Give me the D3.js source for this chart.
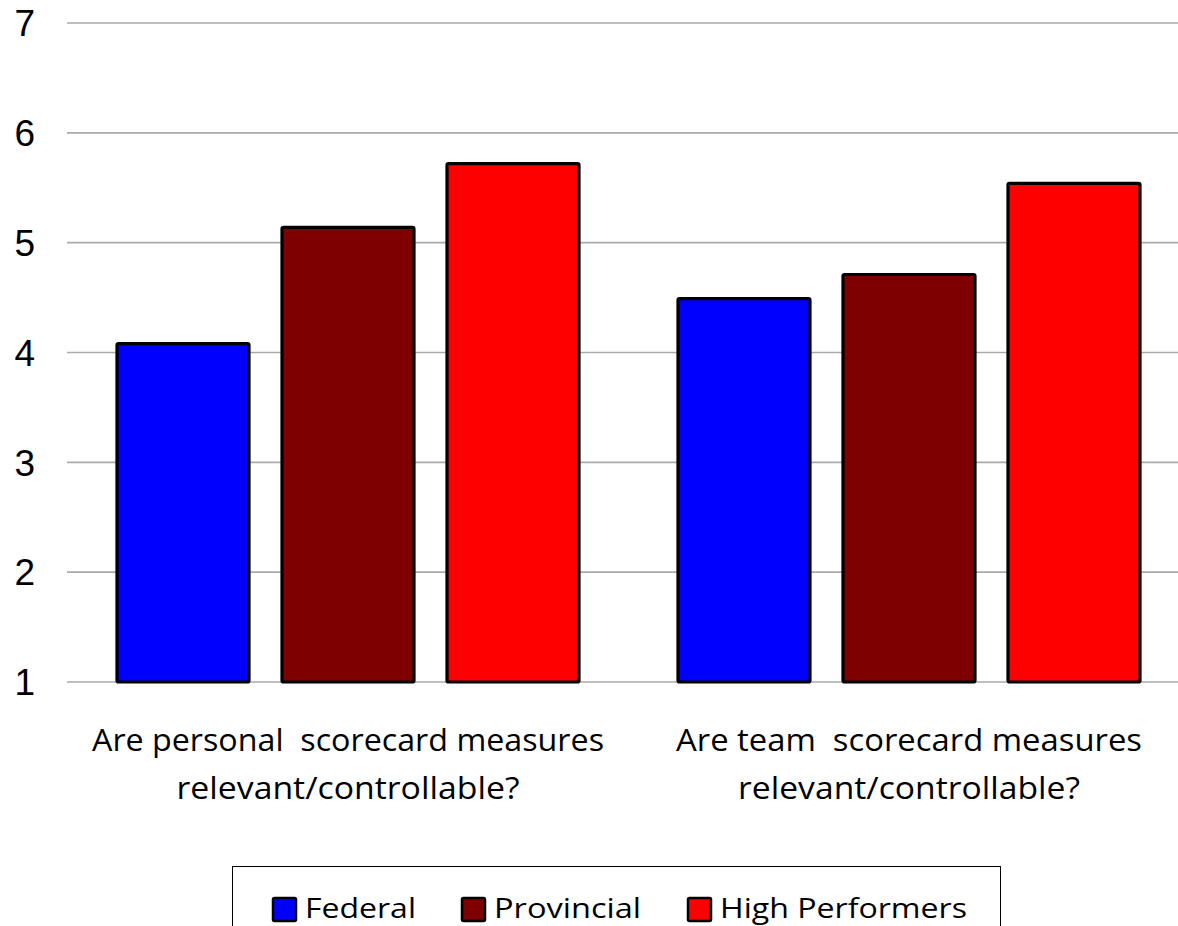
<!DOCTYPE html>
<html><head><meta charset="utf-8">
<script src="https://cdn.jsdelivr.net/npm/d3@7"></script>
<style>html,body{margin:0;padding:0;background:#fff;overflow:hidden}</style>
</head><body>
<svg id="c" width="1178" height="926"></svg>
<script>
const categories = [
  ["Are personal  scorecard measures", "relevant/controllable?"],
  ["Are team  scorecard measures", "relevant/controllable?"]
];
const seriesNames = ["Federal", "Provincial", "High Performers"];
const seriesColors = ["#0000ff", "#7f0000", "#ff0000"];
const federal = [4.08, 4.49];
const provincial = [5.14, 4.71];
const highPerformers = [5.72, 5.54];
const yTicks = [1, 2, 3, 4, 5, 6, 7];
const values = [federal, provincial, highPerformers];

const svg = d3.select("#c");
const y = d3.scaleLinear().domain([1, 7]).range([682, 23]);
const x0 = d3.scaleBand().domain([0, 1]).range([67.5, 1189.5]).padding(0);
const x1 = d3.scaleBand().domain(seriesNames).range([0, x0.bandwidth()]).paddingInner(0.2).paddingOuter(0.3);

// gridlines
svg.append("g").selectAll("line").data(yTicks).join("line")
  .attr("x1", 67).attr("x2", 1178)
  .attr("y1", d => y(d)).attr("y2", d => y(d))
  .attr("stroke", "#aaaaaa").attr("stroke-width", 1.6);

// y tick labels
svg.append("g").selectAll("text").data(yTicks).join("text")
  .attr("x", 35).attr("y", d => y(d)).attr("dy", "0.36em")
  .attr("text-anchor", "end")
  .attr("font-family", "Liberation Sans, Arial, sans-serif")
  .attr("font-size", 37).attr("fill", "#000")
  .text(d => d);

// bars
const g = svg.append("g");
categories.forEach((cat, ci) => {
  seriesNames.forEach((s, si) => {
    g.append("rect")
      .attr("x", x0(ci) + x1(s))
      .attr("y", y(values[si][ci]))
      .attr("width", x1.bandwidth())
      .attr("height", y(1) - y(values[si][ci]))
      .attr("rx", 1.5)
      .attr("fill", seriesColors[si])
      .attr("stroke", "#000").attr("stroke-width", 3.2);
  });
});

// category labels
const lineWidths = [[512, 343], [466, 342]];
categories.forEach((cat, ci) => {
  const cx = x0(ci) + x0.bandwidth() / 2;
  cat.forEach((line, li) => {
    svg.append("text")
      .attr("x", cx).attr("y", li === 0 ? 751 : 799)
      .attr("text-anchor", "middle")
      .attr("font-family", "Liberation Sans Narrow, Open Sans, sans-serif")
      .attr("font-size", 31).attr("fill", "#000")
      .attr("textLength", lineWidths[ci][li]).attr("lengthAdjust", "spacingAndGlyphs")
      .attr("xml:space", "preserve")
      .style("white-space", "pre")
      .text(line);
  });
});

// legend
svg.append("rect").attr("x", 232.5).attr("y", 866.5).attr("width", 768).attr("height", 80)
  .attr("fill", "#fff").attr("stroke", "#000").attr("stroke-width", 1);
const legX = [273, 462, 688];
const legTextW = [111, 147, 247];
seriesNames.forEach((s, i) => {
  svg.append("rect").attr("x", legX[i]).attr("y", 898).attr("width", 23).attr("height", 23)
    .attr("rx", 1.5)
    .attr("fill", seriesColors[i]).attr("stroke", "#000").attr("stroke-width", 2.5);
  svg.append("text").attr("x", legX[i] + 32).attr("y", 918)
    .attr("font-family", "Liberation Sans Narrow, Open Sans, sans-serif")
    .attr("font-size", 28).attr("fill", "#000")
    .attr("textLength", legTextW[i]).attr("lengthAdjust", "spacingAndGlyphs")
    .text(s);
});
</script>
</body></html>
